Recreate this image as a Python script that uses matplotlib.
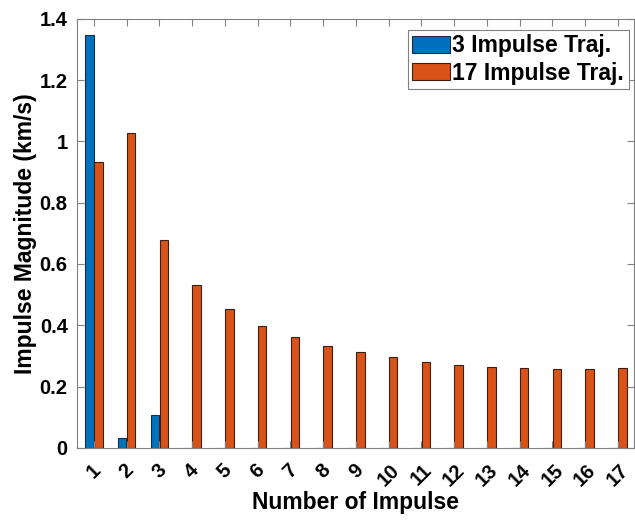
import numpy as np
import matplotlib.pyplot as plt

plt.rcParams['font.family'] = ['Liberation Sans', 'DejaVu Sans']
plt.rcParams['font.weight'] = 'bold'

impulse_num = np.arange(1, 18)
traj3 = [1.347, 0.033, 0.108] + [0.0] * 14
traj17 = [0.932, 1.027, 0.677, 0.532, 0.452, 0.399, 0.363, 0.334, 0.314,
          0.297, 0.281, 0.272, 0.265, 0.259, 0.258, 0.258, 0.261]
tick_labels = [str(i) for i in impulse_num]

fig = plt.figure(figsize=(6.35, 5.22), dpi=100)
ax = fig.add_axes([0.122, 0.142, 0.877, 0.822])

w = 0.26
ax.bar(impulse_num - 0.135, traj3, width=w, color='#0072BD', edgecolor='#1a2a40',
       linewidth=0.8, label='3 Impulse Traj.')
ax.bar(impulse_num + 0.135, traj17, width=w, color='#D95319', edgecolor='#3a2010',
       linewidth=0.8, label='17 Impulse Traj.')

ax.set_xlim(0.5, 17.5)
ax.set_ylim(0, 1.4)
ax.set_xticks(impulse_num)
ax.set_xticklabels(tick_labels, rotation=45, ha='center')
ax.set_yticks([0, 0.2, 0.4, 0.6, 0.8, 1.0, 1.2, 1.4])
ax.set_yticklabels(['0', '0.2', '0.4', '0.6', '0.8', '1', '1.2', '1.4'])
ax.tick_params(direction='in', top=True, right=True, labelsize=14.5, length=5,
               color='#808080', width=0.8)
ax.tick_params(axis='x', pad=9)
ax.tick_params(axis='y', pad=7)
for s in ax.spines.values():
    s.set_color('#808080')
    s.set_linewidth(0.8)

ax.set_xlabel('Number of Impulse', fontsize=16.5, fontweight='bold', labelpad=1)
ax.set_ylabel('Impulse Magnitude (km/s)', fontsize=16.5, fontweight='bold', labelpad=2)

leg = ax.legend(loc='upper right', bbox_to_anchor=(0.99, 0.975), fontsize=16.5,
                fancybox=False, framealpha=1, edgecolor='#808080',
                handlelength=1.65, handleheight=0.75, handletextpad=0.1,
                borderpad=0.2, labelspacing=0.2, borderaxespad=0)
leg.get_frame().set_linewidth(0.8)

fig.savefig('out.png', dpi=100)
